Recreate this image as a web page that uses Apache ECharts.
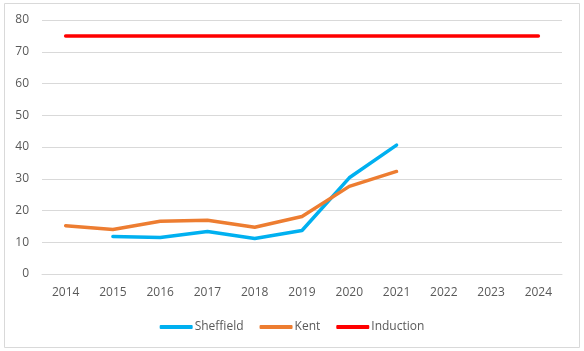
<!DOCTYPE html>
<html>
<head>
<meta charset="utf-8">
<script src="https://cdn.jsdelivr.net/npm/echarts@6/dist/echarts.min.js"></script>
<style>
html,body{margin:0;padding:0;background:#fff;}
#main{width:584px;height:351px;}
</style>
</head>
<body>
<div id="main"></div>
<script>
'use strict'
var years=['2014','2015','2016','2017','2018','2019','2020','2021','2022','2023','2024'];
var sheffield=[null,11.8,11.5,13.4,11.2,13.7,30.3,40.6,null,null,null];
var kent=[15.2,14.0,16.6,16.9,14.7,18.1,27.6,32.3,null,null,null];
var induction=[75,75,75,75,75,75,75,75,75,75,75];

window.onload=function (){
	var myChart=echarts.init(document.getElementById('main'));
	var txt='#595959';
	var grid='#D9D9D9';
	var option={
		animation:false,
		textStyle:{fontFamily:'Open Sans, Liberation Sans, sans-serif'},
		graphic:[{
			type:'rect',
			shape:{x:4.5,y:3.5,width:575,height:344},
			style:{fill:'none',stroke:grid,lineWidth:1},
			silent:true
		}],
		grid:{left:42,right:22,top:20,bottom:77,containLabel:false},
		legend:{
			left:'center',
			top:316,
			icon:'roundRect',
			itemWidth:33,
			itemHeight:4,
			itemGap:16,
			textStyle:{color:txt,fontSize:12,padding:[0,0,0,-3]},
			data:['Sheffield','Kent','Induction']
		},
		xAxis:{
			type:'category',
			data:years,
			boundaryGap:true,
			axisLine:{show:true,lineStyle:{color:grid}},
			axisTick:{show:false},
			axisLabel:{color:txt,fontSize:12,margin:13}
		},
		yAxis:{
			type:'value',
			min:0,
			max:80,
			interval:10,
			axisLine:{show:false},
			axisTick:{show:false},
			splitLine:{lineStyle:{color:grid}},
			axisLabel:{color:txt,fontSize:12,margin:13}
		},
		series:[
			{name:'Sheffield',type:'line',data:sheffield,showSymbol:false,symbol:'none',
				lineStyle:{color:'#00B0F0',width:3.5,cap:'round',join:'round'},itemStyle:{color:'#00B0F0'}},
			{name:'Kent',type:'line',data:kent,showSymbol:false,symbol:'none',
				lineStyle:{color:'#ED7D31',width:3.5,cap:'round',join:'round'},itemStyle:{color:'#ED7D31'}},
			{name:'Induction',type:'line',data:induction,showSymbol:false,symbol:'none',
				lineStyle:{color:'#FF0000',width:3.5,cap:'round',join:'round'},itemStyle:{color:'#FF0000'}}
		]
	};
	myChart.setOption(option);
};
</script>
</body>
</html>
